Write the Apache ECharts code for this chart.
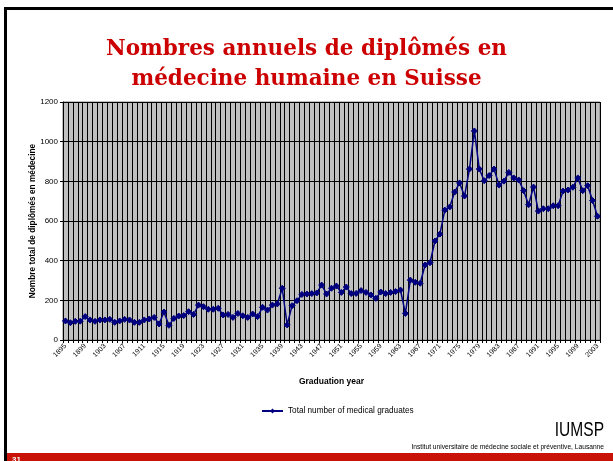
<!DOCTYPE html>
<html>
<head>
    <meta charset="utf-8">
    <script type="text/javascript" src="https://cdn.jsdelivr.net/npm/echarts@6/dist/echarts.min.js"></script>
    <style>
        html, body { margin: 0; padding: 0; background: #fff; }
    </style>
</head>
<body>
<div id="main" style="width:613px;height:461px;"></div>

<script type="text/javascript">
    // annees de diplome, 1895 -> 2003
    var firstYear = 1895;
    var lastYear = 2003;
    var years = [];
    for (var y = firstYear; y <= lastYear; y++) {
        years.push(String(y));
    }

    // nombre total de diplomes par annee
    var graduates1895to1932 = [96, 87, 94, 95, 118, 101, 94, 101, 101, 104,
        89, 96, 104, 101, 89, 89, 101, 106, 114, 81,
        141, 74, 109, 121, 123, 143, 129, 176, 168, 155,
        155, 160, 126, 129, 114, 134, 122, 114];
    var graduates1933to1964 = [131, 118, 165, 151, 176, 182, 261, 76, 173, 198,
        230, 232, 234, 237, 277, 232, 261, 272, 240, 267,
        234, 235, 249, 240, 227, 210, 242, 234, 240, 244,
        252, 134];
    var graduates1965to2003 = [302, 291, 286, 378, 390, 499, 534, 655, 671, 746,
        792, 726, 862, 1054, 862, 803, 829, 862, 781, 801,
        845, 817, 807, 753, 682, 771, 650, 662, 662, 677,
        677, 751, 756, 770, 817, 753, 778, 703, 624];
    var graduates = graduates1895to1932.concat(graduates1933to1964, graduates1965to2003);

    var yTicks = { min: 0, max: 1200, step: 200 };

    var seriesName = 'Total number of medical graduates';
    var titleText = 'Nombres annuels de diplômés en\nmédecine humaine en Suisse';

    var myChart = echarts.init(document.getElementById('main'));

    var option = {
        animation: false,
        backgroundColor: '#ffffff',
        textStyle: { fontFamily: 'Liberation Sans, Arial, sans-serif' },
        title: {
            text: titleText,
            left: 'center',
            top: 30,
            textStyle: {
                fontFamily: 'DejaVu Serif, serif',
                fontWeight: 'bold',
                fontSize: 21.5,
                lineHeight: 29.5,
                color: '#cc0000'
            }
        },
        grid: {
            left: 63,
            top: 102,
            width: 537,
            height: 238,
            show: true,
            backgroundColor: '#c0c0c0',
            borderColor: '#808080',
            borderWidth: 1
        },
        legend: {
            left: 256,
            top: 402,
            itemWidth: 21,
            itemHeight: 6,
            itemGap: 4,
            textStyle: { fontSize: 8.2, color: '#000', fontFamily: 'Liberation Sans, Arial' },
            data: [seriesName]
        },
        xAxis: {
            type: 'category',
            data: years,
            boundaryGap: true,
            name: 'Graduation year',
            nameLocation: 'middle',
            nameGap: 37,
            nameMoveOverlap: false,
            nameTextStyle: { fontSize: 8.5, fontWeight: 'bold', color: '#000' },
            axisLine: { show: true, lineStyle: { color: '#000', width: 1 } },
            axisTick: { show: true, interval: 0, length: 3, lineStyle: { color: '#000' } },
            axisLabel: {
                interval: 3,
                rotate: 45,
                fontSize: 7,
                color: '#000',
                margin: 5
            },
            splitLine: { show: true, interval: 0, lineStyle: { color: '#000', width: 1 } }
        },
        yAxis: {
            type: 'value',
            min: yTicks.min,
            max: yTicks.max,
            interval: yTicks.step,
            name: 'Nombre total de diplômés en médecine',
            nameLocation: 'middle',
            nameGap: 26,
            nameMoveOverlap: false,
            nameTextStyle: { fontSize: 8.3, fontWeight: 'bold', color: '#000' },
            axisLine: { show: true, lineStyle: { color: '#000', width: 1 } },
            axisTick: { show: true, length: 3, lineStyle: { color: '#000' } },
            axisLabel: {
                fontSize: 8,
                color: '#000',
                margin: 5,
                formatter: function (v) { return String(v); }
            },
            splitLine: { show: true, lineStyle: { color: '#000', width: 1 } }
        },
        series: [
            {
                name: seriesName,
                type: 'line',
                data: graduates,
                symbol: 'diamond',
                symbolSize: 6,
                showAllSymbol: true,
                lineStyle: { color: '#000080', width: 1.5 },
                itemStyle: { color: '#000080', borderColor: '#000080' }
            }
        ],
        graphic: [
            // cadre de la diapositive
            { type: 'rect', shape: { x: 4, y: 7, width: 609, height: 3 }, style: { fill: '#000' } },
            { type: 'rect', shape: { x: 4, y: 7, width: 3, height: 454 }, style: { fill: '#000' } },
            // bandeau rouge en bas
            { type: 'rect', shape: { x: 7, y: 453, width: 606, height: 8 }, style: { fill: '#c81408' } },
            { type: 'text', x: 12, y: 456, style: { text: '31', fill: '#fff', font: 'bold 8px Liberation Sans', textVerticalAlign: 'top' } },
            // logo IUMSP
            { type: 'text', x: 604, y: 441, scaleX: 0.74,
              style: { text: 'IUMSP', fill: '#000', font: '21px "Liberation Sans"', textAlign: 'right', textVerticalAlign: 'bottom' } },
            { type: 'text', x: 604, y: 451, scaleX: 0.95,
              style: { text: 'Institut universitaire de médecine sociale et préventive, Lausanne', fill: '#000', font: '7px "Liberation Sans"', textAlign: 'right', textVerticalAlign: 'bottom' } }
        ]
    };

    myChart.setOption(option);
</script>
</body>
</html>
